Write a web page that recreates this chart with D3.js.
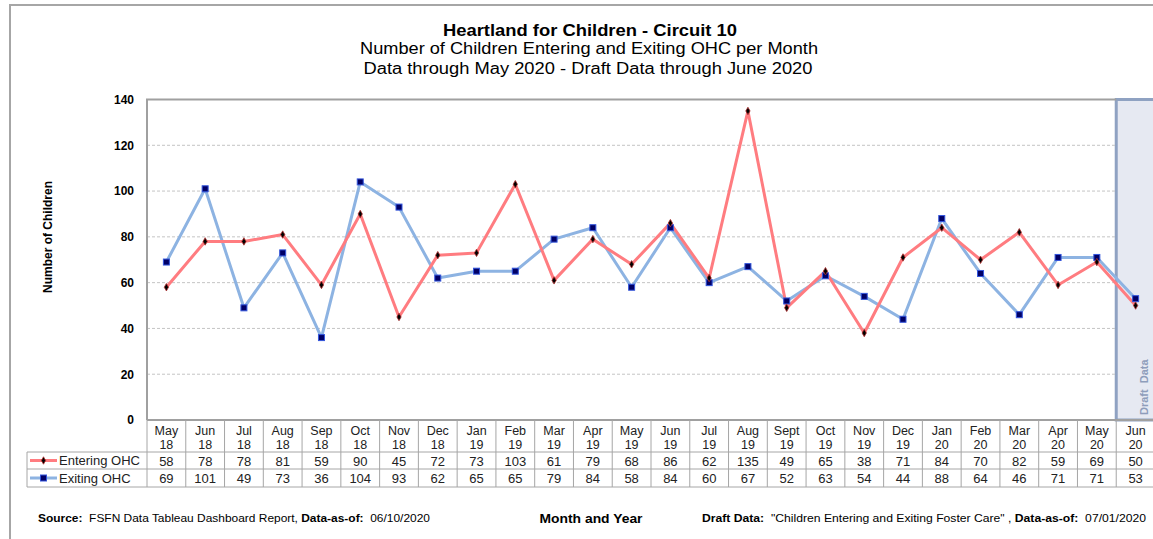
<!DOCTYPE html>
<html>
<head>
<meta charset="utf-8">
<script src="https://cdn.jsdelivr.net/npm/d3@7"></script>
<style>
  body { margin: 0; background: #fff; }
  svg { display: block; font-family: Arial, "Liberation Sans", sans-serif; }
</style>
</head>
<body>
<div id="chart"></div>
<script>
// chart data
var months = ["May|18", "Jun|18", "Jul|18", "Aug|18", "Sep|18", "Oct|18", "Nov|18", "Dec|18",
  "Jan|19", "Feb|19", "Mar|19", "Apr|19", "May|19", "Jun|19", "Jul|19", "Aug|19", "Sept|19",
  "Oct|19", "Nov|19", "Dec|19", "Jan|20", "Feb|20", "Mar|20", "Apr|20", "May|20", "Jun|20"];
var entering = [58, 78, 78, 81, 59, 90, 45, 72, 73, 103, 61, 79, 68, 86, 62, 135, 49, 65, 38, 71, 84, 70, 82, 59, 69, 50];
var exiting = [69, 101, 49, 73, 36, 104, 93, 62, 65, 65, 79, 84, 58, 84, 60, 67, 52, 63, 54, 44, 88, 64, 46, 71, 71, 53];
var yTicks = [0, 20, 40, 60, 80, 100, 120, 140];
var draftMonths = ["Jun|20"];

var svgWidth = 1153;
var svgHeight = 539;

// plot area
var plot = { left: 147, top: 99.5, right: 1155, bottom: 420 };

var svg = d3.select("#chart")
  .append("svg")
  .attr("width", svgWidth)
  .attr("height", svgHeight);

// outer frame
svg.append("path")
  .attr("d", `M10,${svgHeight} L10,5 L${svgWidth},5`)
  .attr("fill", "none")
  .attr("stroke", "#a6a6a6")
  .attr("stroke-width", 2);

// scales
var xScale = d3.scaleBand()
  .domain(months)
  .range([plot.left, plot.right])
  .padding(0);

var yScale = d3.scaleLinear()
  .domain([0, 140])
  .range([plot.bottom, plot.top]);

var bw = xScale.bandwidth();
var cx = d => xScale(d) + bw / 2;

// draft data area
draftMonths.forEach(function(m) {
  svg.append("rect")
    .attr("x", xScale(m))
    .attr("y", plot.top)
    .attr("width", bw + 5)
    .attr("height", plot.bottom - plot.top)
    .attr("fill", "#e6e9f2")
    .attr("stroke", "#8fa2c2")
    .attr("stroke-width", 3);

  svg.append("text")
    .attr("transform", `translate(${xScale(m) + 32}, ${plot.bottom - 5}) rotate(-90)`)
    .attr("font-size", 11)
    .attr("font-weight", "bold")
    .attr("fill", "#8e9dbb")
    .attr("xml:space", "preserve")
    .text("Draft  Data");
});

// gridlines
svg.append("g")
  .selectAll("line")
  .data(yTicks.filter(t => t > 0 && t < 140))
  .enter()
  .append("line")
  .attr("x1", plot.left)
  .attr("x2", xScale(draftMonths[0]))
  .attr("y1", d => yScale(d))
  .attr("y2", d => yScale(d))
  .attr("stroke", "#c4c4c4")
  .attr("stroke-dasharray", "3,2")
  .attr("stroke-width", 1);

// plot border (top and left)
svg.append("path")
  .attr("d", `M${plot.left},${plot.bottom} L${plot.left},${plot.top} L${xScale(draftMonths[0])},${plot.top}`)
  .attr("fill", "none")
  .attr("stroke", "#a0a0a0")
  .attr("stroke-width", 2);

// y axis labels
var leftAxis = d3.axisLeft(yScale)
  .tickValues(yTicks)
  .tickSize(0)
  .tickPadding(13);

var yAxis = svg.append("g")
  .attr("transform", `translate(${plot.left}, 0)`)
  .call(leftAxis);
yAxis.select(".domain").remove();
yAxis.selectAll("text")
  .attr("font-size", 12)
  .attr("font-weight", "bold")
  .attr("font-family", "Arial, 'Liberation Sans', sans-serif")
  .attr("fill", "#000");

// y axis title
svg.append("text")
  .attr("transform", "translate(52, 237) rotate(-90)")
  .attr("text-anchor", "middle")
  .attr("font-size", 12)
  .attr("font-weight", "bold")
  .text("Number of Children");

// lines
var line = d3.line()
  .x((d, i) => cx(months[i]))
  .y(d => yScale(d));

svg.append("path")
  .datum(exiting)
  .attr("d", line)
  .attr("fill", "none")
  .attr("stroke", "#8db3e2")
  .attr("stroke-width", 3)
  .attr("stroke-linejoin", "round");

svg.append("path")
  .datum(entering)
  .attr("d", line)
  .attr("fill", "none")
  .attr("stroke", "#ff7c80")
  .attr("stroke-width", 3)
  .attr("stroke-linejoin", "round");

// markers
svg.append("g")
  .selectAll("rect")
  .data(exiting)
  .enter()
  .append("rect")
  .attr("x", (d, i) => cx(months[i]) - 3)
  .attr("y", d => yScale(d) - 3)
  .attr("width", 6)
  .attr("height", 6)
  .attr("fill", "#000066")
  .attr("stroke", "#3355dd")
  .attr("stroke-width", 1);

svg.append("g")
  .selectAll("path")
  .data(entering)
  .enter()
  .append("path")
  .attr("d", d3.symbol(d3.symbolDiamond, 16))
  .attr("transform", (d, i) => `translate(${cx(months[i])}, ${yScale(d)})`)
  .attr("fill", "#000")
  .attr("stroke", "#b03030")
  .attr("stroke-width", 0.8);

// data table
var rows = { head: 420, r1: 452, r2: 469, end: 487 };
var table = svg.append("g");
var gridColor = "#a6a6a6";

// horizontal lines
[rows.r1, rows.r2, rows.end].forEach(function(y) {
  table.append("line")
    .attr("x1", 27).attr("x2", plot.right)
    .attr("y1", y).attr("y2", y)
    .attr("stroke", gridColor);
});
table.append("line")
  .attr("x1", plot.left).attr("x2", plot.right)
  .attr("y1", rows.head).attr("y2", rows.head)
  .attr("stroke", "#a0a0a0").attr("stroke-width", 2);

// vertical lines
months.forEach(function(m) {
  table.append("line")
    .attr("x1", xScale(m) + bw).attr("x2", xScale(m) + bw)
    .attr("y1", rows.head).attr("y2", rows.end)
    .attr("stroke", gridColor);
});
table.append("line")
  .attr("x1", plot.left).attr("x2", plot.left)
  .attr("y1", rows.head).attr("y2", rows.end)
  .attr("stroke", gridColor);
table.append("line")
  .attr("x1", 27).attr("x2", 27)
  .attr("y1", rows.r1).attr("y2", rows.end)
  .attr("stroke", gridColor);

// month labels (two lines per cell)
months.forEach(function(m) {
  var parts = m.split("|");
  table.append("text")
    .attr("x", cx(m)).attr("y", 435)
    .attr("text-anchor", "middle")
    .attr("font-size", 12.5)
    .attr("fill", "#222")
    .text(parts[0]);
  table.append("text")
    .attr("x", cx(m)).attr("y", 449)
    .attr("text-anchor", "middle")
    .attr("font-size", 12.5)
    .attr("fill", "#222")
    .text(parts[1]);
});

// values
function valueRow(values, y) {
  table.append("g")
    .selectAll("text")
    .data(values)
    .enter()
    .append("text")
    .attr("x", (d, i) => cx(months[i]))
    .attr("y", y)
    .attr("text-anchor", "middle")
    .attr("font-size", 13)
    .attr("fill", "#222")
    .text(d => d);
}
valueRow(entering, 465.5);
valueRow(exiting, 482.5);

// legend keys
function legendKey(y, color, label, marker) {
  table.append("line")
    .attr("x1", 30).attr("x2", 57)
    .attr("y1", y).attr("y2", y)
    .attr("stroke", color).attr("stroke-width", 3);
  if (marker === "diamond") {
    table.append("path")
      .attr("d", d3.symbol(d3.symbolDiamond, 16))
      .attr("transform", `translate(43.5, ${y})`)
      .attr("fill", "#000")
      .attr("stroke", "#b03030")
      .attr("stroke-width", 0.8);
  } else {
    table.append("rect")
      .attr("x", 40.5).attr("y", y - 3)
      .attr("width", 6).attr("height", 6)
      .attr("fill", "#000066").attr("stroke", "#3355dd");
  }
  table.append("text")
    .attr("x", 59).attr("y", y + 4.5)
    .attr("font-size", 13)
    .attr("fill", "#222")
    .text(label);
}
legendKey(460.5, "#ff7c80", "Entering OHC", "diamond");
legendKey(478, "#8db3e2", "Exiting OHC", "square");

// titles
svg.append("text")
  .attr("x", 590).attr("y", 36)
  .attr("text-anchor", "middle")
  .attr("font-size", 16)
  .attr("font-weight", "bold")
  .attr("textLength", 294)
  .attr("lengthAdjust", "spacingAndGlyphs")
  .text("Heartland for Children - Circuit 10");

svg.append("text")
  .attr("x", 589).attr("y", 54)
  .attr("text-anchor", "middle")
  .attr("font-size", 16)
  .attr("textLength", 458)
  .attr("lengthAdjust", "spacingAndGlyphs")
  .text("Number of Children Entering and Exiting OHC per Month");

svg.append("text")
  .attr("x", 588).attr("y", 74)
  .attr("text-anchor", "middle")
  .attr("font-size", 16)
  .attr("textLength", 449)
  .attr("lengthAdjust", "spacingAndGlyphs")
  .text("Data through May 2020 - Draft Data through June 2020");

// footer
var source = svg.append("text")
  .attr("x", 38).attr("y", 522)
  .attr("font-size", 11)
  .attr("textLength", 392)
  .attr("lengthAdjust", "spacingAndGlyphs")
  .attr("xml:space", "preserve");
source.append("tspan").attr("font-weight", "bold").text("Source:");
source.append("tspan").text("  FSFN Data Tableau Dashboard Report, ");
source.append("tspan").attr("font-weight", "bold").text("Data-as-of:");
source.append("tspan").text("  06/10/2020");

svg.append("text")
  .attr("x", 591).attr("y", 523)
  .attr("text-anchor", "middle")
  .attr("font-size", 13)
  .attr("font-weight", "bold")
  .attr("textLength", 103)
  .attr("lengthAdjust", "spacingAndGlyphs")
  .text("Month and Year");

var draft = svg.append("text")
  .attr("x", 702).attr("y", 522)
  .attr("font-size", 11)
  .attr("textLength", 444)
  .attr("lengthAdjust", "spacingAndGlyphs")
  .attr("xml:space", "preserve");
draft.append("tspan").attr("font-weight", "bold").text("Draft Data:");
draft.append("tspan").text("  \"Children Entering and Exiting Foster Care\" , ");
draft.append("tspan").attr("font-weight", "bold").text("Data-as-of:");
draft.append("tspan").text("  07/01/2020");
</script>
</body>
</html>
